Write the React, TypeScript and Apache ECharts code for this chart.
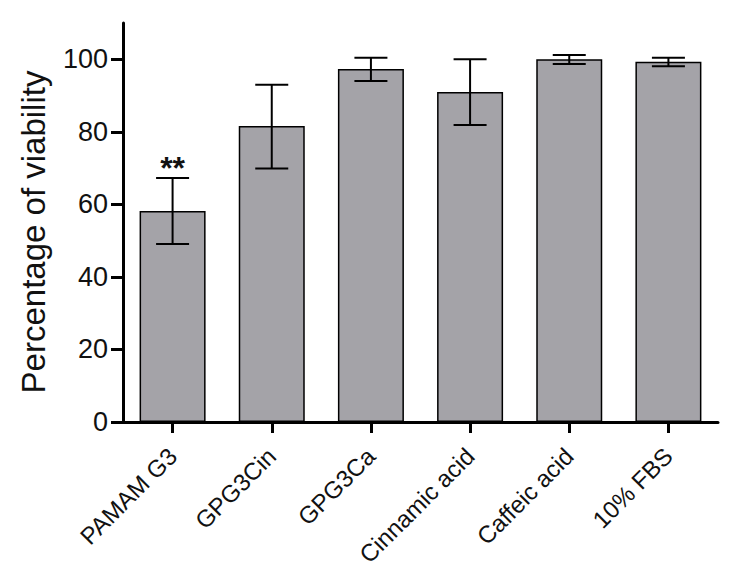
import React, { useEffect, useRef } from "react";
import * as echarts from "echarts";

const categories = ["PAMAM G3", "GPG3Cin", "GPG3Ca", "Cinnamic acid", "Caffeic acid", "10% FBS"];
const meanValues = [58.2, 81.6, 97.3, 91.0, 100.0, 99.3];
const errLow = [49.1, 69.9, 94.0, 81.9, 98.7, 98.1];
const errHigh = [67.3, 93.0, 100.4, 100.0, 101.2, 100.4];
const significance = ["**", "", "", "", "", ""];
const yTicks = [0, 20, 40, 60, 80, 100];
const yAxisTitle = "Percentage of viability";

const FONT = "'Liberation Sans', Arial, sans-serif";

export default function App() {
  const ref = useRef<HTMLDivElement>(null);
  useEffect(() => {
    if (!ref.current) return;
    const chart = echarts.init(ref.current, undefined, { renderer: "svg" });
    const errData = categories.map((_, i) => [i, errLow[i], errHigh[i], meanValues[i]]);
    chart.setOption({
      animation: false,
      backgroundColor: "#ffffff",
      grid: { left: 123, right: 18, top: 23, bottom: 164, containLabel: false },
      graphic: [
        {
          type: "text",
          x: 33,
          y: 232,
          rotation: Math.PI / 2,
          style: {
            text: yAxisTitle,
            align: "center",
            verticalAlign: "middle",
            fontSize: 33,
            fontFamily: FONT,
            fill: "#111",
          },
        },
      ],
      xAxis: {
        type: "category",
        data: categories,
        boundaryGap: true,
        axisLine: { show: true, onZero: false, lineStyle: { color: "#000", width: 3 } },
        axisTick: { show: true, alignWithLabel: true, length: 11, inside: false, lineStyle: { color: "#000", width: 3 } },
        axisLabel: {
          rotate: 45,
          margin: 30,
          fontSize: 24,
          fontFamily: FONT,
          color: "#111",
          interval: 0,
        },
        splitLine: { show: false },
      },
      yAxis: {
        type: "value",
        min: 0,
        max: 110,
        interval: 20,
        axisLine: { show: true, lineStyle: { color: "#000", width: 3 } },
        axisTick: { show: true, length: 12, inside: false, customValues: yTicks, lineStyle: { color: "#000", width: 3 } },
        axisLabel: { customValues: yTicks, fontSize: 27, fontFamily: FONT, color: "#111", margin: 15 },
        splitLine: { show: false },
      },
      series: [
        {
          type: "bar",
          data: meanValues,
          barWidth: 66,
          itemStyle: { color: "#a4a3a8", borderColor: "#000", borderWidth: 1.5 },
          z: 2,
        },
        {
          type: "custom",
          data: errData,
          z: 3,
          encode: { x: 0, y: [1, 2] },
          renderItem: (params: any, api: any) => {
            const i = api.value(0);
            const lo = api.coord([i, api.value(1)]);
            const hi = api.coord([i, api.value(2)]);
            const half = 16.5;
            const style = { stroke: "#000", lineWidth: 2 };
            const children: any[] = [
              { type: "line", shape: { x1: hi[0], y1: hi[1], x2: lo[0], y2: lo[1] }, style },
              { type: "line", shape: { x1: hi[0] - half, y1: hi[1], x2: hi[0] + half, y2: hi[1] }, style },
              { type: "line", shape: { x1: lo[0] - half, y1: lo[1], x2: lo[0] + half, y2: lo[1] }, style },
            ];
            const sig = significance[params.dataIndex];
            if (sig) {
              children.push({
                type: "text",
                style: {
                  text: sig,
                  x: hi[0],
                  y: hi[1] + 6,
                  align: "center",
                  verticalAlign: "bottom",
                  fontSize: 32,
                  fontWeight: "bold",
                  fontFamily: FONT,
                  fill: "#111",
                },
              });
            }
            return { type: "group", children };
          },
        },
      ],
    });
    return () => chart.dispose();
  }, []);
  return <div ref={ref} style={{ position: "absolute", left: 0, top: 0, width: 736, height: 586 }} />;
}
